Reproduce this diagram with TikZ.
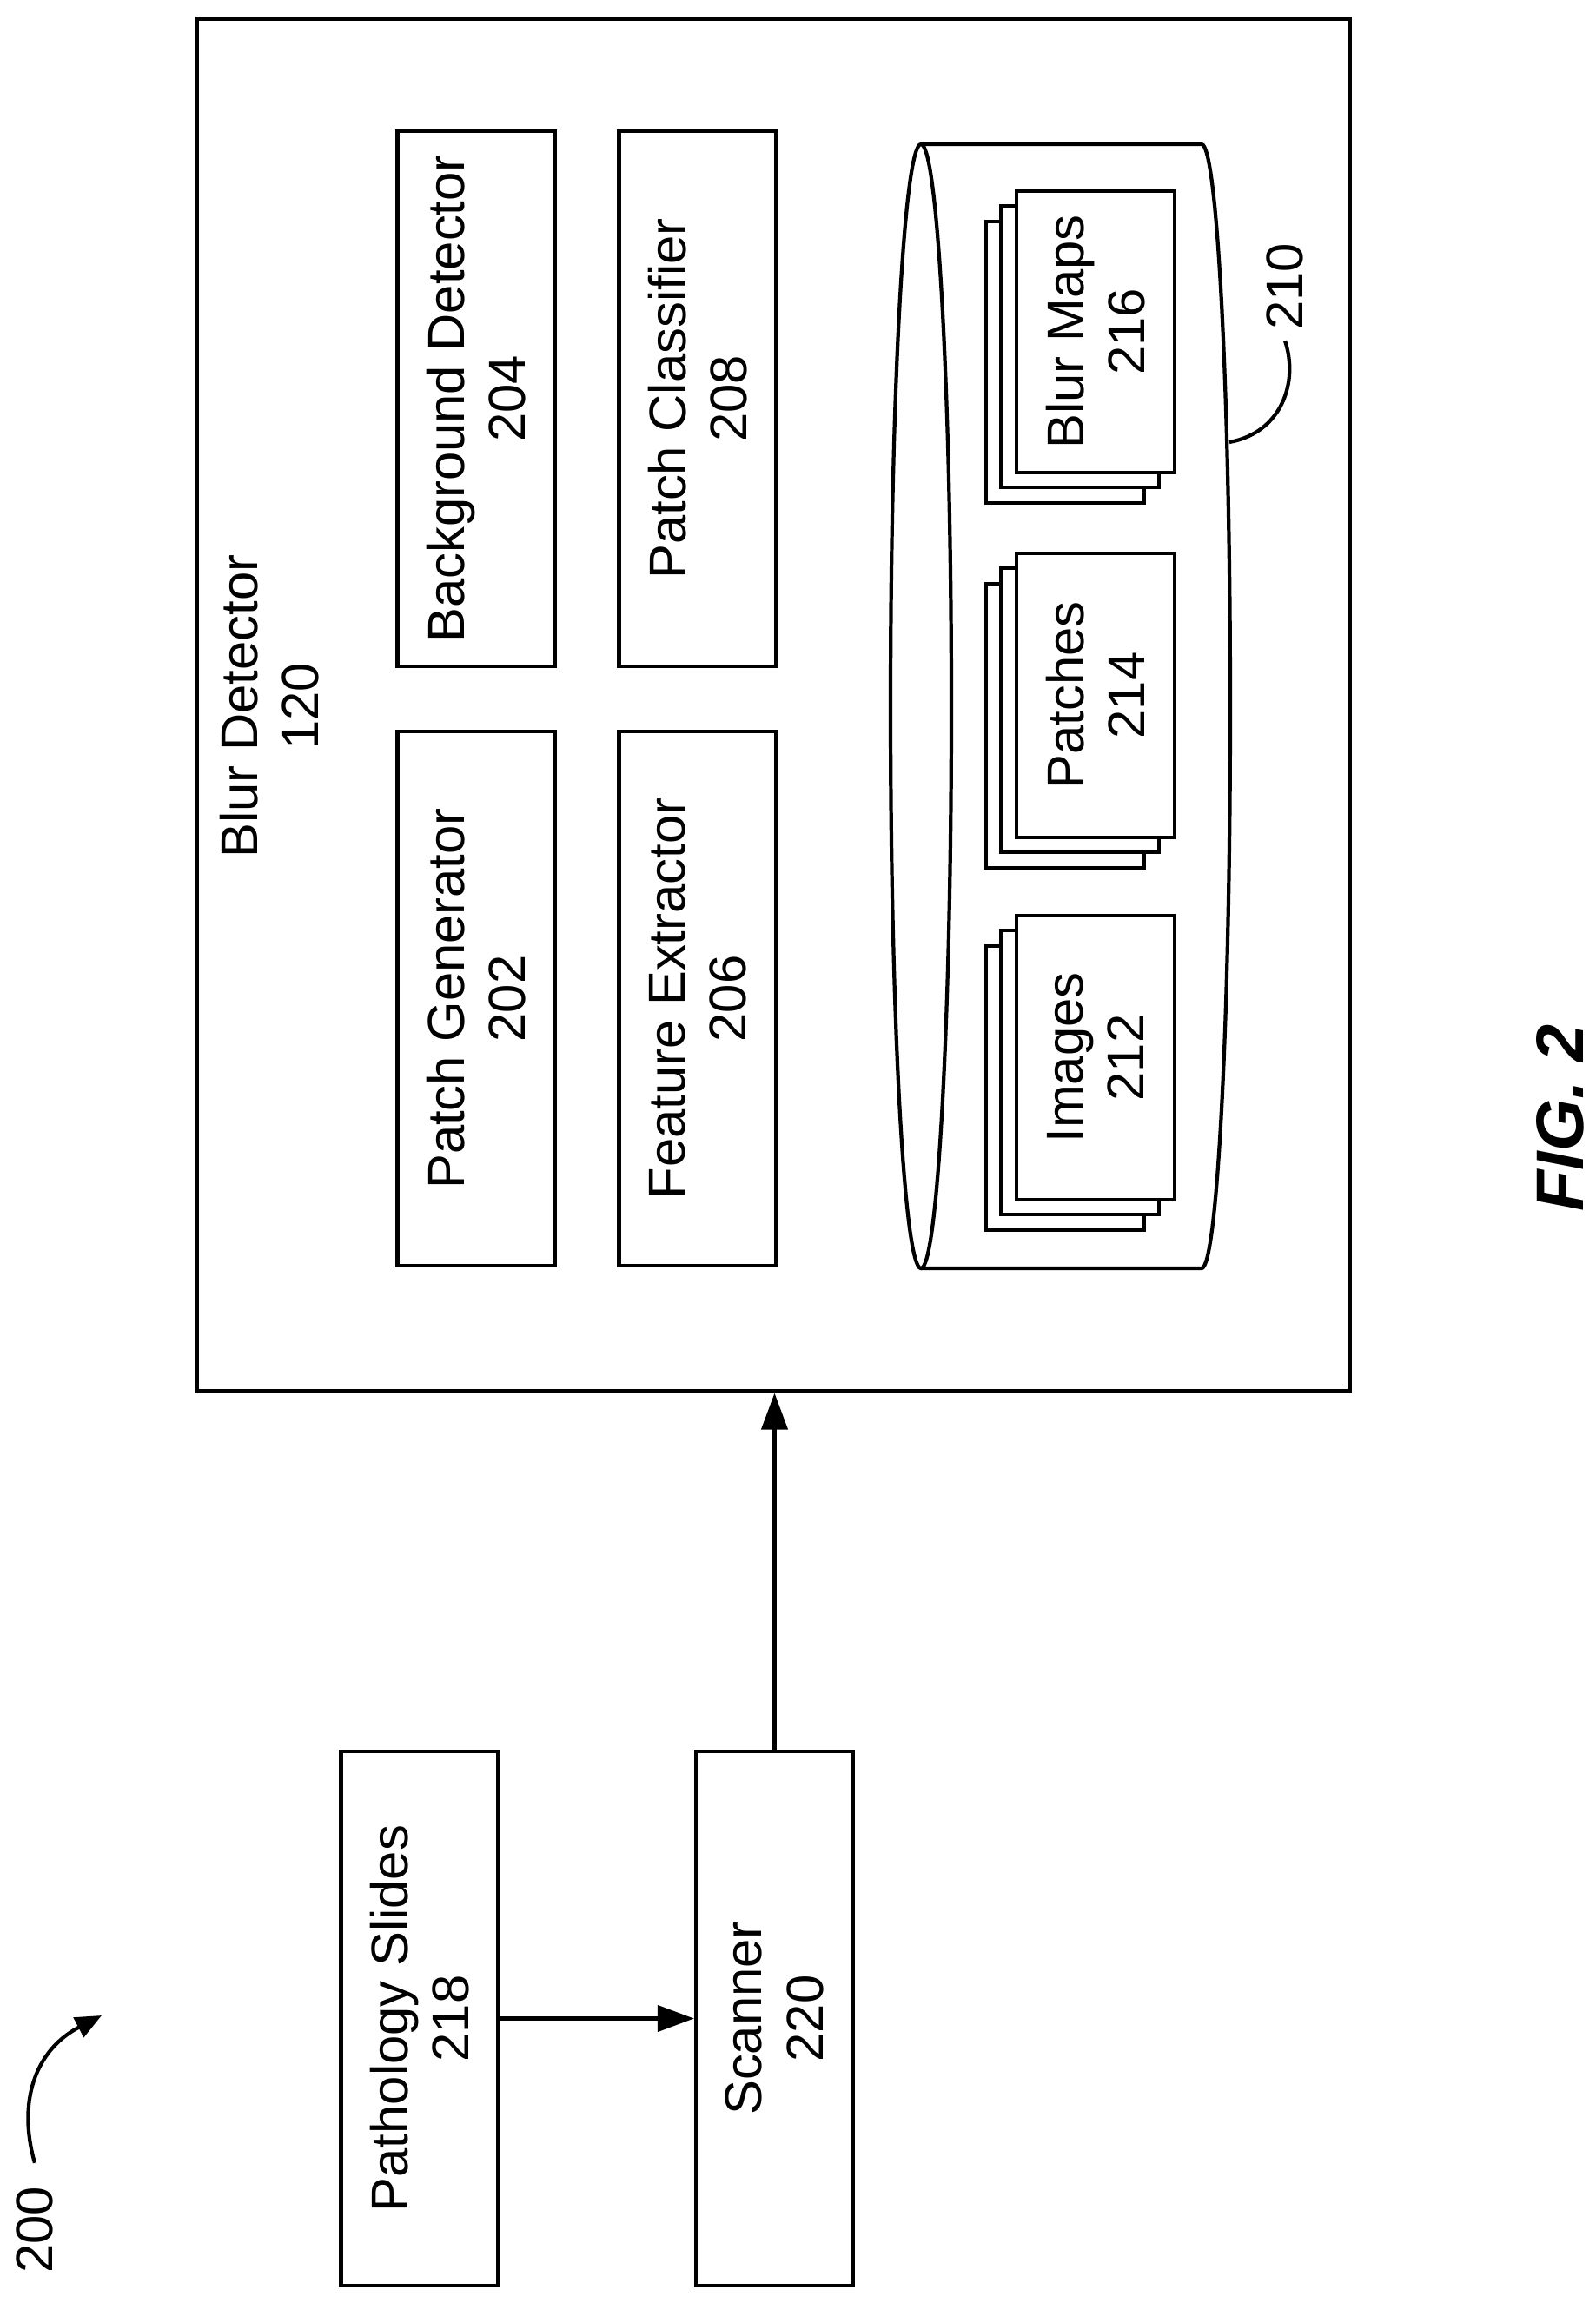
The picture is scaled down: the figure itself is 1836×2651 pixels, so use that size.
\documentclass[tikz,border=0pt]{standalone}
\usepackage{fontspec}
\setmainfont{Liberation Sans}
\usetikzlibrary{arrows.meta,positioning}

\begin{document}
\begin{tikzpicture}[x=0.01cm,y=-0.01cm]
	\tikzstyle{block}=[draw, line width=1.2pt, rotate=90, minimum width=6.15cm, minimum height=1.81cm, align=center, font=\fontsize{17}{20}\selectfont]
	\tikzstyle{doc}=[draw, line width=1.2pt, fill=white]
	\tikzstyle{lbl}=[rotate=90, align=center, font=\fontsize{17}{20}\selectfont]
	\tikzstyle{arrow}=[draw, line width=1.2pt, -{Triangle[length=0.42cm,width=0.3cm]}]
	\newcommand\docstack[5]{% x1 y1 x2 y2 name/text
		\draw [doc] (#1-35,#2+35) rectangle (#3-35,#4+35);
		\draw [doc] (#1-18,#2+17) rectangle (#3-18,#4+17);
		\draw [doc] (#1,#2) rectangle (#3,#4);
		\node [lbl] at ({(#1+#3)/2},{(#2+#4)/2}) #5;
	}
	\useasboundingbox (0,0) rectangle (1836,2651);

	 % Blur detector
	\node [draw, line width=1.2pt, minimum width=13.26cm, minimum height=15.79cm] at (890,811.5) (blur) {};
	\node [lbl] at (310,813) (blurlbl) {Blur Detector\\120};

	\node [block] at (548,1149.5) (patchgen) {Patch Generator\\202};
	\node [block] at (548,459) (bgdet) {Background Detector\\204};
	\node [block] at (803,1149.5) (featext) {Feature Extractor\\206};
	\node [block] at (803,459) (patchcls) {Patch Classifier\\208};

	 % Storage
	\draw [line width=1.2pt] (1060,813) ellipse [x radius=35, y radius=647];
	\draw [line width=1.2pt] (1060,166) -- (1383,166) arc [start angle=-90, end angle=90, x radius=33, y radius=647] -- (1060,1460);
	\docstack{1170}{220}{1352}{544}{(maps) {Blur Maps\\216}}
	\docstack{1170}{637}{1352}{964}{(patches) {Patches\\214}}
	\docstack{1170}{1054}{1352}{1381}{(images) {Images\\212}}
	\node [lbl] at (1479,330) (l210) {210};
	\draw [line width=1.2pt] (1415,509) .. controls (1475,498) and (1495,440) .. (l210.west);

	 % Inputs
	\node [block] at (483,2323.5) (slides) {Pathology Slides\\218};
	\node [block] at (891.5,2323.5) (scanner) {Scanner\\220};

	\path [arrow] (slides) -- (scanner);
	\path [arrow] (scanner.east) -- (scanner.east |- blur.south);

	 % Figure labels
	\node [lbl] at (40,2567) (l200) {200};
	\coordinate (tip200) at (117,2320);
	\draw [line width=1.2pt, -{Triangle[length=0.3cm,width=0.25cm]}] (l200.east) ++(0,-15) .. controls (20,2420) and (40,2360) .. (tip200);
	\node [rotate=90, font=\bfseries\itshape\fontsize{22}{26}\selectfont] at (1796,1287) (fig) {FIG. 2};
\end{tikzpicture}
\end{document}
